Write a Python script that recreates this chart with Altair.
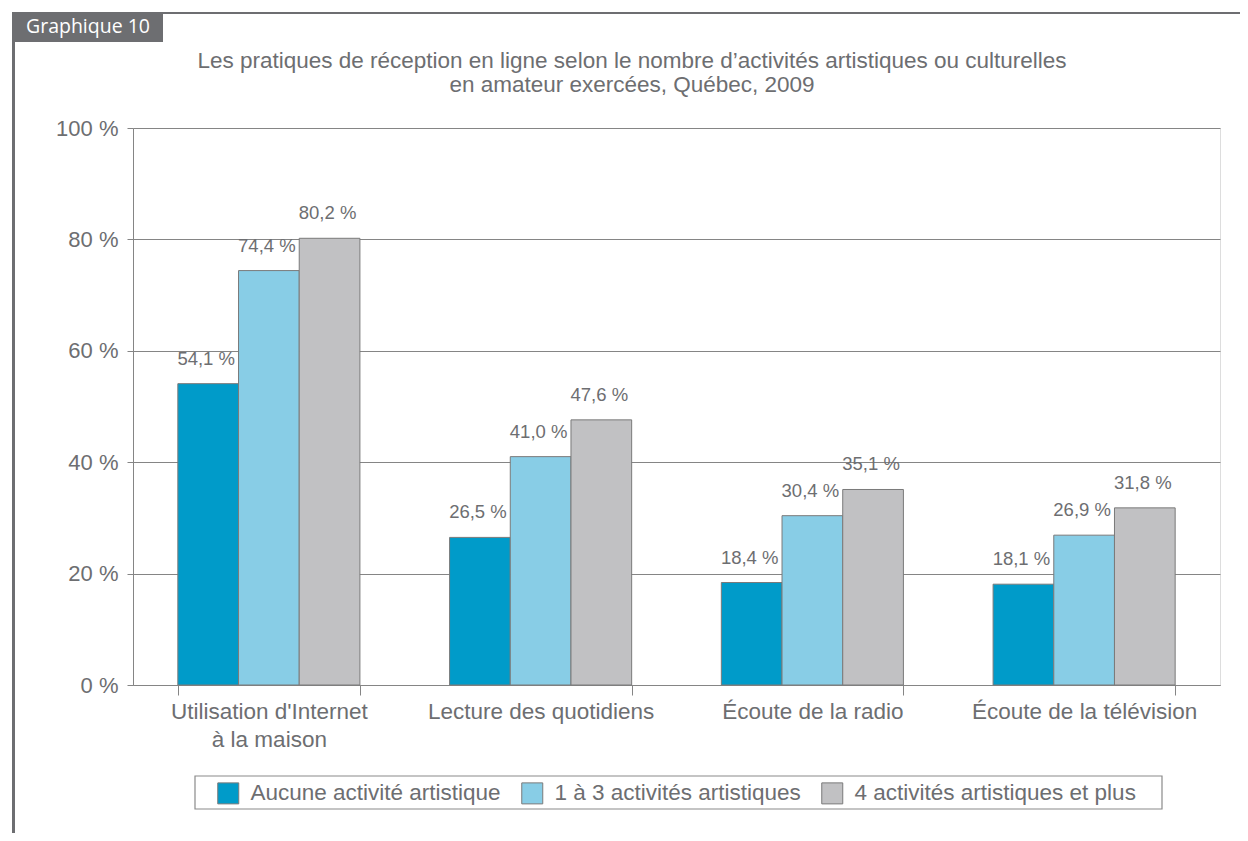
import altair as alt
import pandas as pd

categories = [
    "Utilisation d'Internet à la maison",
    "Lecture des quotidiens",
    "Écoute de la radio",
    "Écoute de la télévision",
]
groups = [
    "Aucune activité artistique",
    "1 à 3 activités artistiques",
    "4 activités artistiques et plus",
]
aucune = [54.1, 26.5, 18.4, 18.1]
un_a_trois = [74.4, 41.0, 30.4, 26.9]
quatre_plus = [80.2, 47.6, 35.1, 31.8]
colors = ["#009bc9", "#88cde6", "#c1c1c3"]
y_ticks = [0, 20, 40, 60, 80, 100]
title_line1 = "Les pratiques de réception en ligne selon le nombre d’activités artistiques ou culturelles"
title_line2 = "en amateur exercées, Québec, 2009"
badge_text = "Graphique 10"

GREY = "#6d6e71"
LINE = "#858585"
FONT = "Liberation Sans"

rows = []
for g, vals in zip(groups, [aucune, un_a_trois, quatre_plus]):
    for c, v in zip(categories, vals):
        rows.append({"category": c, "group": g, "value": v,
                     "label": f"{v:.1f}".replace(".", ",") + " %"})
df = pd.DataFrame(rows)

x_enc = alt.X(
    "category:N", sort=categories,
    scale=alt.Scale(paddingInner=0.33, paddingOuter=0.165),
    axis=alt.Axis(
        title=None, labelAngle=0, tickBand="extent", tickSize=10,
        tickColor=LINE, domainColor=LINE, labelColor=GREY, labelFont=FONT,
        labelFontSize=22.5, labelPadding=5, labelLineHeight=28, labelLimit=400,
        labelExpr="indexof(datum.label, 'Internet') >= 0 ? [slice(datum.label, 0, 22), slice(datum.label, 23)] : datum.label",
    ),
)
xoff = alt.XOffset("group:N", sort=groups, scale=alt.Scale(paddingInner=0, paddingOuter=0))
y_enc = alt.Y(
    "value:Q",
    scale=alt.Scale(domain=[0, 100], nice=False),
    axis=alt.Axis(
        title=None, values=y_ticks, tickSize=6, tickColor=LINE,
        domainColor=LINE, gridColor=LINE, labelColor=GREY, labelFont=FONT,
        labelFontSize=22, labelPadding=9, labelExpr="datum.value + ' %'",
    ),
)

base = alt.Chart(df)
bars = base.mark_bar(stroke="#7a7a7a", strokeWidth=1).encode(
    x=x_enc, xOffset=xoff, y=y_enc,
    color=alt.Color(
        "group:N", sort=groups,
        scale=alt.Scale(domain=groups, range=colors),
        legend=alt.Legend(
            title=None, orient="none", legendX=84, legendY=654,
            direction="horizontal", symbolType="square", symbolSize=441,
            symbolStrokeColor="#7a7a7a", symbolStrokeWidth=1,
            labelFont=FONT, labelFontSize=22.5, labelColor=GREY,
            padding=0, columnPadding=18, labelOffset=11,
            labelLimit=400,
        ),
    ),
)
labels = base.mark_text(
    baseline="bottom", dy=-15, dx=-2, font=FONT, fontSize=18.5, color=GREY
).encode(x=x_enc, xOffset=xoff, y=y_enc, text="label:N")

one = pd.DataFrame({"k": [0]})
legend_box = alt.Chart(one).mark_rect(fill="white", stroke="#8a8a8a", strokeWidth=1.2).encode(
    x=alt.value(62), x2=alt.value(1029), y=alt.value(648), y2=alt.value(681)
)
badge = alt.Chart(one).mark_rect(color=GREY).encode(
    x=alt.value(-121), x2=alt.value(30), y=alt.value(-116), y2=alt.value(-86)
)
badge_txt = alt.Chart(one).mark_text(
    color="white", font="Open Sans", fontSize=19.5, align="left", baseline="middle"
).encode(x=alt.value(-107), y=alt.value(-101), text=alt.value(badge_text))
top_line = alt.Chart(one).mark_rule(color=GREY, strokeWidth=2).encode(
    x=alt.value(30), x2=alt.value(1107), y=alt.value(-115)
)
left_line = alt.Chart(one).mark_rule(color=GREY, strokeWidth=3).encode(
    x=alt.value(-119.5), y=alt.value(-86), y2=alt.value(705)
)
title1 = alt.Chart(one).mark_text(
    font=FONT, fontSize=22.5, color=GREY, align="center", baseline="alphabetic"
).encode(x=alt.value(499), y=alt.value(-60), text=alt.value(title_line1))
title2 = alt.Chart(one).mark_text(
    font=FONT, fontSize=22.5, color=GREY, align="center", baseline="alphabetic"
).encode(x=alt.value(499), y=alt.value(-36), text=alt.value(title_line2))

chart = alt.layer(
    legend_box, bars, labels, badge, top_line, left_line, badge_txt, title1, title2
).properties(
    width=1087, height=557,
    padding={"left": 125, "top": 120, "right": 20, "bottom": 148},
    autosize=alt.AutoSizeParams(type="none"),
).configure_view(stroke=LINE).configure(background="white")

chart.save("out.html", embed_options={"renderer": "svg", "actions": False})
